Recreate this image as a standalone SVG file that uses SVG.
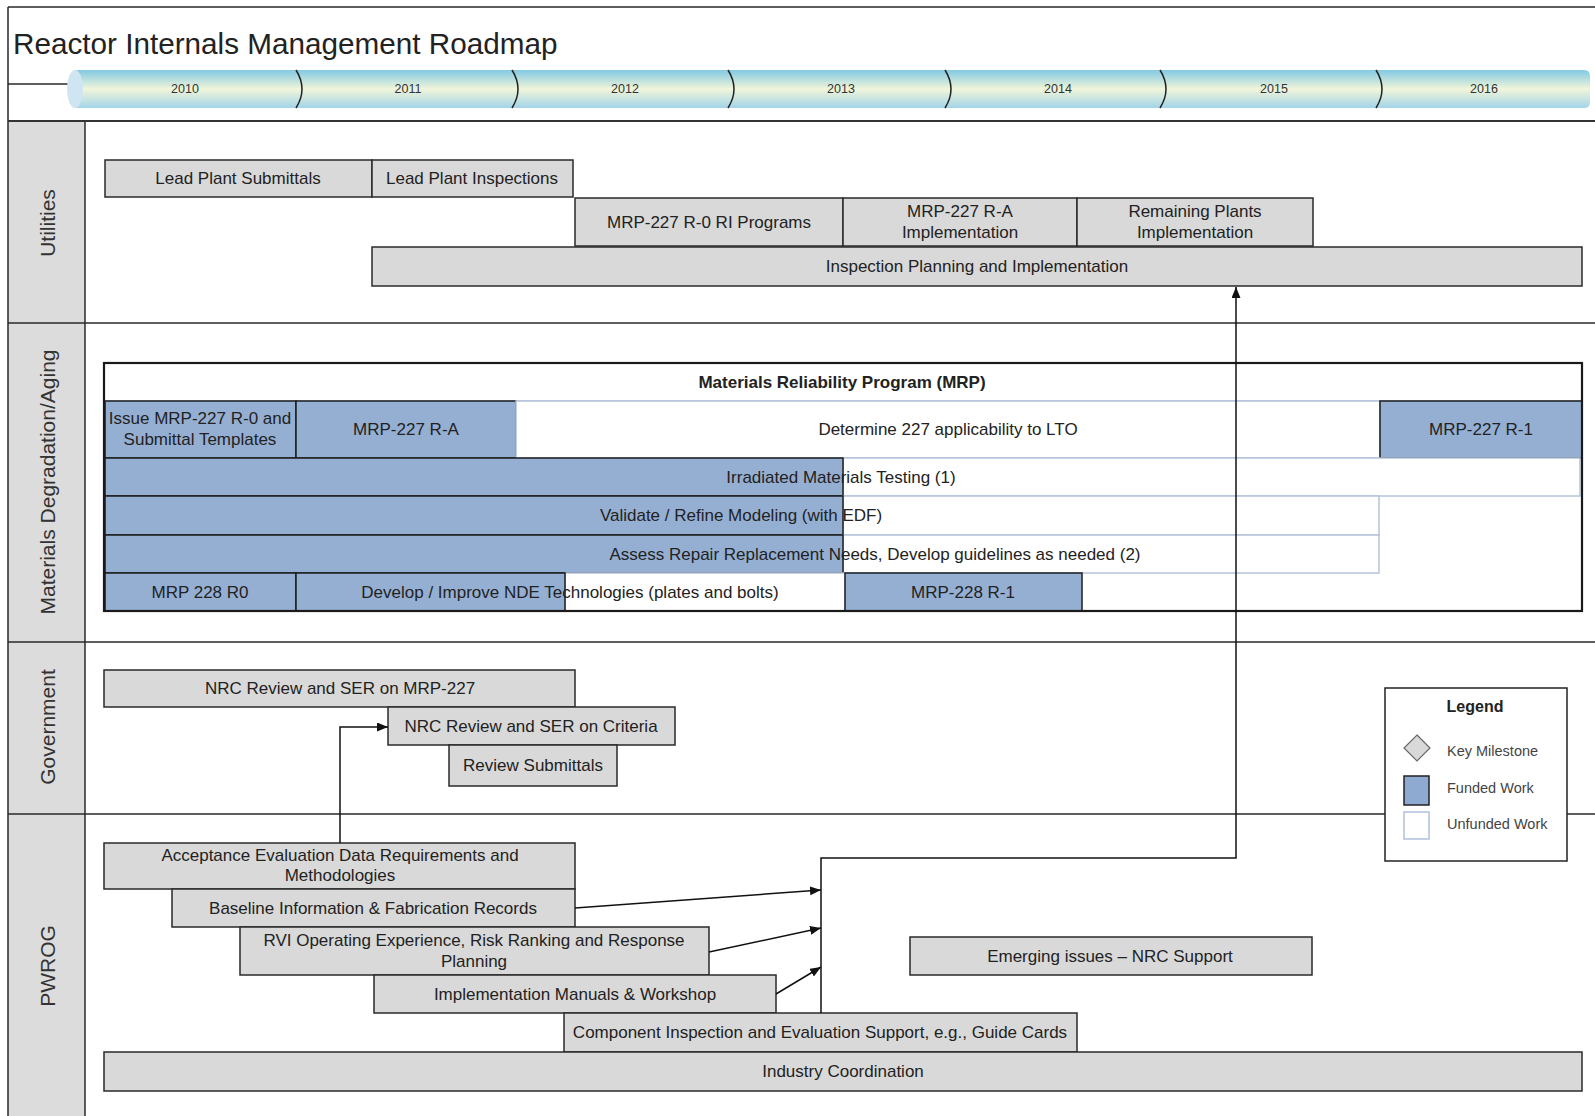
<svg xmlns="http://www.w3.org/2000/svg" width="1595" height="1116" viewBox="0 0 1595 1116">
<style>
text{font-family:"Liberation Sans",Arial,sans-serif;fill:#222}
.t{font-size:17px;text-anchor:middle}
.yr{font-size:12.5px;text-anchor:middle;fill:#333}
.lane{font-size:21px;text-anchor:middle;fill:#333}
.box{fill:#d9d9d9;stroke:#2a2a2a;stroke-width:1.5}
.fund{fill:#95afd3;stroke:#1e1e1e;stroke-width:1.5}
.unf{fill:#fff;stroke:#b4c4da;stroke-width:1.5}
.ln{stroke:#2a2a2a;stroke-width:1.5;fill:none}
.conn{stroke:#111;stroke-width:1.5;fill:none}
.lg{font-size:14.5px;fill:#444}
</style>
<defs>
<linearGradient id="bar" x1="0" y1="0" x2="0" y2="1">
<stop offset="0" stop-color="#82c9e2"/>
<stop offset="0.5" stop-color="#f1f5da"/>
<stop offset="1" stop-color="#a3d4e9"/>
</linearGradient>
<marker id="ah" markerUnits="userSpaceOnUse" markerWidth="12" markerHeight="10" refX="11" refY="4.5" orient="auto">
<path d="M0,0 L11,4.5 L0,9 z" fill="#111"/>
</marker>
</defs>
<rect x="0" y="0" width="1595" height="1116" fill="#fff"/>

<g id="frame">
<rect x="8" y="121" width="77" height="1000" fill="#dcdcdc"/>
<path class="ln" d="M8,7 H1595 M8,7 V1116 M85,121 V1116 M8,84 H68"/>
<path d="M8,121 H1595" stroke="#333" stroke-width="2.2"/>
<path class="ln" d="M8,323 H1595 M8,642 H1595 M8,814 H1595"/>
<text x="13" y="54" style="font-size:29.7px">Reactor Internals Management Roadmap</text>
</g>

<g id="timeline">
<path d="M75,70 H1584 Q1590,70 1590,76 V102 Q1590,108 1584,108 H75 z" fill="url(#bar)"/>
<ellipse cx="75" cy="89" rx="8" ry="19" fill="#cfe6f2"/>
<g stroke="#222" stroke-width="1.5" fill="none">
<path d="M296,70 Q308,89 296,108"/>
<path d="M512,70 Q524,89 512,108"/>
<path d="M728,70 Q740,89 728,108"/>
<path d="M945,70 Q957,89 945,108"/>
<path d="M1160,70 Q1172,89 1160,108"/>
<path d="M1376,70 Q1388,89 1376,108"/>
</g>
<text class="yr" x="185" y="93">2010</text>
<text class="yr" x="408" y="93">2011</text>
<text class="yr" x="625" y="93">2012</text>
<text class="yr" x="841" y="93">2013</text>
<text class="yr" x="1058" y="93">2014</text>
<text class="yr" x="1274" y="93">2015</text>
<text class="yr" x="1484" y="93">2016</text>
</g>

<g id="lane-labels">
<text class="lane" transform="translate(54.5,223) rotate(-90)">Utilities</text>
<text class="lane" transform="translate(54.5,482) rotate(-90)">Materials Degradation/Aging</text>
<text class="lane" transform="translate(54.5,727) rotate(-90)">Government</text>
<text class="lane" transform="translate(54.5,966) rotate(-90)">PWROG</text>
</g>

<!-- Utilities -->
<g id="lead-submittals"><rect class="box" x="105" y="160" width="267" height="37"/><text class="t" x="238" y="184">Lead Plant Submittals</text></g>
<g id="lead-inspections"><rect class="box" x="372" y="160" width="201" height="37"/><text class="t" x="472" y="184">Lead Plant Inspections</text></g>
<g id="mrp227-r0-ri"><rect class="box" x="575" y="198" width="268" height="48"/><text class="t" x="709" y="228">MRP-227 R-0 RI Programs</text></g>
<g id="mrp227-ra-impl"><rect class="box" x="843" y="198" width="234" height="48"/><text class="t" x="960" y="217">MRP-227 R-A</text><text class="t" x="960" y="238">Implementation</text></g>
<g id="remaining-plants"><rect class="box" x="1077" y="198" width="236" height="48"/><text class="t" x="1195" y="217">Remaining Plants</text><text class="t" x="1195" y="238">Implementation</text></g>
<g id="inspection-planning"><rect class="box" x="372" y="247" width="1210" height="39"/><text class="t" x="977" y="272">Inspection Planning and Implementation</text></g>

<!-- Materials -->
<g id="mrp">
<rect x="104" y="363" width="1478" height="248" fill="#fff"/>
<path d="M104,401 H1582" stroke="#b4c4da" stroke-width="1.5"/>
<text class="t" x="842" y="387.5" style="font-weight:bold">Materials Reliability Program (MRP)</text>
</g>
<g id="issue-mrp227"><rect class="fund" x="105" y="401" width="191" height="57"/><text class="t" x="200" y="424">Issue MRP-227 R-0 and</text><text class="t" x="200" y="444.5">Submittal Templates</text></g>
<g id="mrp227-ra"><rect class="fund" x="296" y="401" width="220" height="57"/><text class="t" x="406" y="435">MRP-227 R-A</text></g>
<g id="determine-227"><rect class="unf" x="516" y="401" width="864" height="57"/><text class="t" x="948" y="435">Determine 227 applicability to LTO</text></g>
<g id="mrp227-r1"><rect class="fund" x="1380" y="401" width="202" height="57"/><text class="t" x="1481" y="435">MRP-227 R-1</text></g>
<g id="irradiated"><rect class="unf" x="843" y="458" width="737" height="38"/><rect class="fund" x="105" y="458" width="738" height="38"/><text class="t" x="841" y="483">Irradiated Materials Testing (1)</text></g>
<g id="validate"><rect class="unf" x="843" y="496" width="536" height="39"/><rect class="fund" x="105" y="496" width="738" height="39"/><text class="t" x="741" y="521">Validate / Refine Modeling (with EDF)</text></g>
<g id="assess"><rect class="unf" x="843" y="535" width="536" height="38"/><rect class="fund" x="105" y="535" width="738" height="38"/><text class="t" x="875" y="559.5">Assess Repair Replacement Needs, Develop guidelines as needed (2)</text></g>
<g id="mrp228-r0"><rect class="fund" x="105" y="573" width="191" height="38"/><text class="t" x="200" y="597.5">MRP 228 R0</text></g>
<g id="develop-nde"><rect class="unf" x="565" y="573" width="280" height="38"/><rect class="fund" x="296" y="573" width="269" height="38"/><text class="t" x="570" y="597.5">Develop / Improve NDE Technologies (plates and bolts)</text></g>
<g id="mrp228-r1"><rect class="fund" x="845" y="573" width="237" height="38"/><text class="t" x="963" y="597.5">MRP-228 R-1</text></g>
<rect x="104" y="363" width="1478" height="248" fill="none" stroke="#1a1a1a" stroke-width="2.2"/>

<!-- Government -->
<g id="nrc-mrp227"><rect class="box" x="104" y="670" width="471" height="37"/><text class="t" x="340" y="694">NRC Review and SER on MRP-227</text></g>
<g id="nrc-criteria"><rect class="box" x="388" y="707" width="287" height="38"/><text class="t" x="531" y="731.5">NRC Review and SER on Criteria</text></g>
<g id="review-submittals"><rect class="box" x="449" y="745" width="168" height="41"/><text class="t" x="533" y="771">Review Submittals</text></g>

<!-- PWROG -->
<g id="acceptance"><rect class="box" x="104" y="843" width="471" height="46"/><text class="t" x="340" y="860.5">Acceptance Evaluation Data Requirements and</text><text class="t" x="340" y="881">Methodologies</text></g>
<g id="baseline"><rect class="box" x="172" y="889" width="403" height="38"/><text class="t" x="373" y="913.5">Baseline Information &amp; Fabrication Records</text></g>
<g id="rvi"><rect class="box" x="240" y="927" width="469" height="48"/><text class="t" x="474" y="946">RVI Operating Experience, Risk Ranking and Response</text><text class="t" x="474" y="966.5">Planning</text></g>
<g id="impl-manuals"><rect class="box" x="374" y="975" width="402" height="38"/><text class="t" x="575" y="999.5">Implementation Manuals &amp; Workshop</text></g>
<g id="component-insp"><rect class="box" x="564" y="1013" width="513" height="39"/><text class="t" x="820" y="1037.5">Component Inspection and Evaluation Support, e.g., Guide Cards</text></g>
<g id="industry-coord"><rect class="box" x="104" y="1052" width="1478" height="39"/><text class="t" x="843" y="1076.5">Industry Coordination</text></g>
<g id="emerging"><rect class="box" x="910" y="937" width="402" height="38"/><text class="t" x="1110" y="961.5">Emerging issues – NRC Support</text></g>

<g id="connectors">
<path class="conn" d="M340,843 V727 H388" marker-end="url(#ah)"/>
<path class="conn" d="M821,1013 V858 H1236 V287" marker-end="url(#ah)"/>
<path class="conn" d="M575,908 L821,890" marker-end="url(#ah)"/>
<path class="conn" d="M709,952 L821,928" marker-end="url(#ah)"/>
<path class="conn" d="M776,994 L821,967" marker-end="url(#ah)"/>
</g>

<g id="legend">
<rect x="1385" y="688" width="182" height="173" fill="#fff" stroke="#222" stroke-width="1.5"/>
<text x="1475" y="712" style="font-size:16px;font-weight:bold;text-anchor:middle">Legend</text>
<polygon points="1417,735 1430,748 1417,761 1404,748" fill="#d9d9d9" stroke="#666" stroke-width="1.2"/>
<text class="lg" x="1447" y="756">Key Milestone</text>
<rect x="1404" y="776" width="25" height="29" fill="#8eaad0" stroke="#222" stroke-width="1.5"/>
<text class="lg" x="1447" y="793">Funded Work</text>
<rect x="1404" y="812" width="25" height="27" fill="#fff" stroke="#b0c0dc" stroke-width="1.5"/>
<text class="lg" x="1447" y="829">Unfunded Work</text>
</g>
</svg>
